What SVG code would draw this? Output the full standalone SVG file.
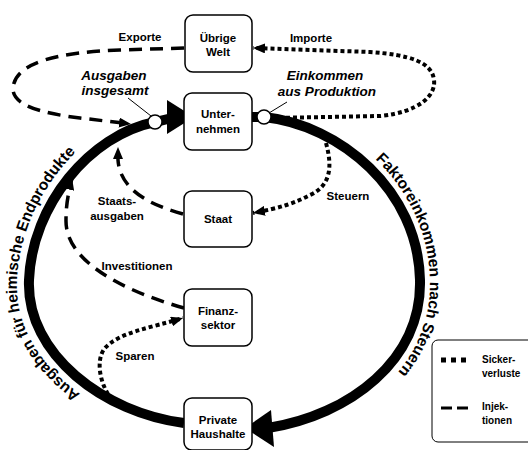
<svg xmlns="http://www.w3.org/2000/svg" width="528" height="450" viewBox="0 0 528 450">
<style>
.box{fill:#fff;stroke:#000;stroke-width:1.5}
.t{font-family:"Liberation Sans",Arial,sans-serif;font-weight:bold;font-size:11.5px;text-anchor:middle;fill:#000}
.it{font-family:"Liberation Sans",Arial,sans-serif;font-weight:bold;font-style:italic;font-size:13.5px;text-anchor:middle;fill:#000}
.arc{font-family:"Liberation Sans",Arial,sans-serif;font-weight:bold;font-size:15.5px;fill:#000}
.lg{font-family:"Liberation Sans",Arial,sans-serif;font-weight:bold;font-size:10px;fill:#000}
.thick{fill:none;stroke:#000;stroke-width:10}
.dot{fill:none;stroke:#000;stroke-width:4;stroke-dasharray:4 3}
.dash{fill:none;stroke:#000;stroke-width:3.5;stroke-dasharray:13 8}
.lead{fill:none;stroke:#000;stroke-width:1}
</style>
<defs>
<marker id="ah" viewBox="0 0 12 10" refX="12" refY="5" markerWidth="12" markerHeight="10" markerUnits="userSpaceOnUse" orient="auto">
<path d="M0,0 L12,5 L0,10 z" fill="#000"/>
</marker>
<path id="leftText" d="M184,433 C98,423 13,362 17,280 C21,198 83,124 152,110"/>
<path id="rightText" d="M262,107 C346,114 428,185 430,280 C432,368 356,426 272,438"/>
</defs>
<rect width="528" height="450" fill="#fff"/>
<g id="connectors">
<path class="thick" d="M184,423 C105,413 26,355 29,280 C32,205 90,135 155,122 L172,118"/>
<polygon points="167,100 194,117 167,134" fill="#000"/>
<path class="thick" d="M252,117 L264,117 C340,125 418,190 420,280 C422,360 350,415 268,428"/>
<polygon points="245,428 271,410 274,447" fill="#000"/>
<path class="dash" d="M184,48 L120,50 C60,52 15,62 13,88 C12,105 40,113 80,118 L131,124" marker-end="url(#ah)"/>
<path class="dot" d="M272,118 L380,116 C420,112 436,95 434,80 C432,62 410,55 370,52 L253,48" marker-end="url(#ah)"/>
<path class="dot" d="M326,143 C332,165 332,185 310,195 C295,203 280,208 253,213" marker-end="url(#ah)"/>
<path class="dash" d="M183,214 C150,205 120,190 118,160 L118,147" marker-end="url(#ah)"/>
<path class="dash" d="M184,308 C120,290 65,260 66,220 C66,205 68,195 72,178" marker-end="url(#ah)"/>
<path class="dot" d="M112,400 C100,385 95,360 105,348 C120,332 150,328 183,318" marker-end="url(#ah)"/>
<circle cx="155" cy="122" r="7" fill="#fff" stroke="#000" stroke-width="1.5"/>
<circle cx="264" cy="117" r="7" fill="#fff" stroke="#000" stroke-width="1.5"/>
<path class="lead" d="M128,98 L151,116"/>
<path class="lead" d="M287,102 L269,113"/>
</g>
<g id="arc-labels">
<text class="arc"><textPath href="#leftText" startOffset="252" text-anchor="middle">Ausgaben für heimische Endprodukte</textPath></text>
<text class="arc"><textPath href="#rightText" startOffset="245" text-anchor="middle">Faktoreinkommen nach Steuern</textPath></text>
</g>
<g id="labels">
<text class="t" x="140" y="41">Exporte</text>
<text class="t" x="311" y="42">Importe</text>
<text class="it" x="114" y="80">Ausgaben</text>
<text class="it" x="115" y="95">insgesamt</text>
<text class="it" x="325" y="80">Einkommen</text>
<text class="it" x="327" y="96">aus Produktion</text>
<text class="t" x="348" y="200">Steuern</text>
<text class="t" x="117" y="205">Staats-</text>
<text class="t" x="117" y="220">ausgaben</text>
<text class="t" x="137" y="270">Investitionen</text>
<text class="t" x="135" y="360">Sparen</text>
</g>
<g id="uebrige-welt">
<rect class="box" x="185" y="15" width="67" height="57" rx="8"/>
<text class="t" x="218" y="42">Übrige</text>
<text class="t" x="218" y="56">Welt</text>
</g>
<g id="unternehmen">
<rect class="box" x="184" y="93" width="68" height="57" rx="8"/>
<text class="t" x="218" y="118">Unter-</text>
<text class="t" x="218" y="133">nehmen</text>
</g>
<g id="staat">
<rect class="box" x="184" y="191" width="68" height="56" rx="8"/>
<text class="t" x="218" y="223">Staat</text>
</g>
<g id="finanzsektor">
<rect class="box" x="184" y="289" width="68" height="57" rx="8"/>
<text class="t" x="218" y="315">Finanz-</text>
<text class="t" x="218" y="329">sektor</text>
</g>
<g id="private-haushalte">
<rect class="box" x="184" y="398" width="68" height="52" rx="8"/>
<text class="t" x="218" y="424">Private</text>
<text class="t" x="218" y="438">Haushalte</text>
</g>
<g id="legend">
<rect x="432" y="340" width="110" height="102" rx="6" fill="#fff" stroke="#000" stroke-width="1"/>
<path d="M441,360 L466,360" fill="none" stroke="#000" stroke-width="5" stroke-dasharray="5 5"/>
<path d="M441,408 L468,408" fill="none" stroke="#000" stroke-width="3" stroke-dasharray="11 5"/>
<text class="lg" x="482" y="363">Sicker-</text>
<text class="lg" x="482" y="377">verluste</text>
<text class="lg" x="482" y="410">Injek-</text>
<text class="lg" x="482" y="424">tionen</text>
</g>
</svg>
